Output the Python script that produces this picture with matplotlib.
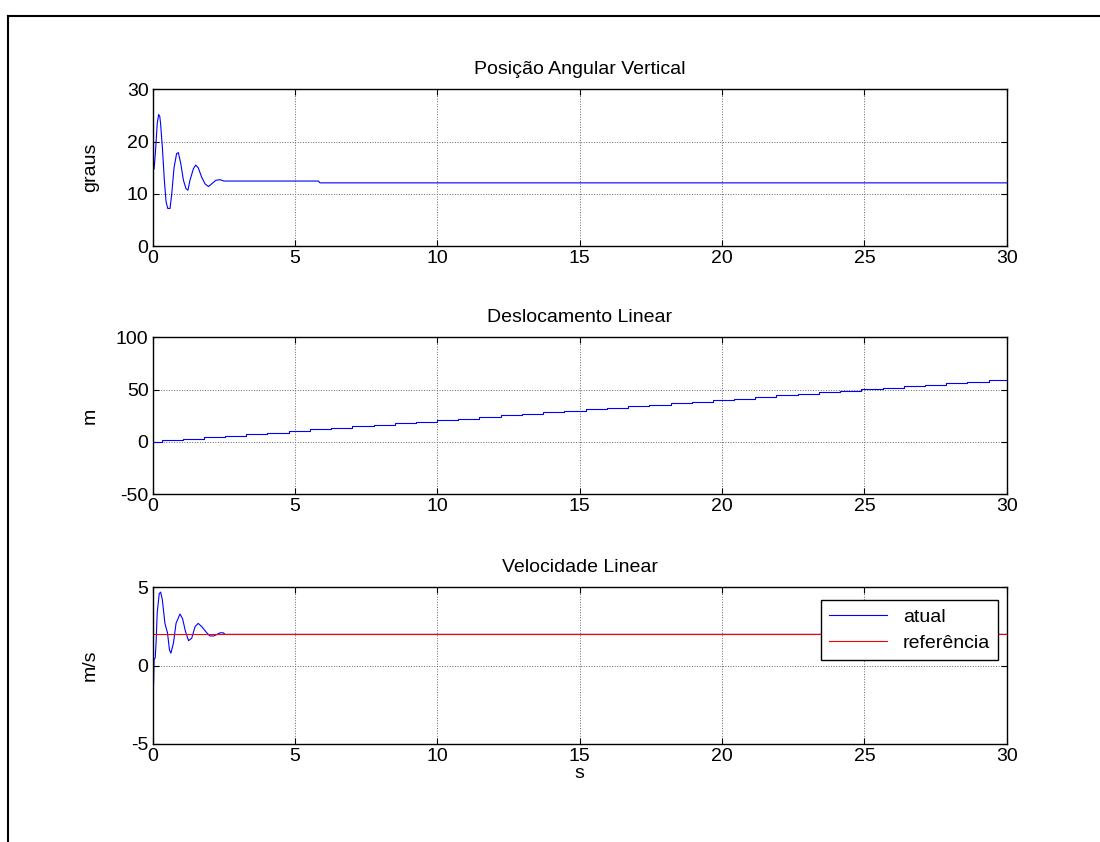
import matplotlib

matplotlib.use("Agg")
import matplotlib.pyplot as plt
from matplotlib.lines import Line2D

plt.rcParams["font.family"] = ["Liberation Sans", "DejaVu Sans"]
plt.rcParams["font.size"] = 14
plt.rcParams["axes.unicode_minus"] = False

# Posição angular vertical (graus)
ang_t = [0, 0.0, 0.02, 0.05, 0.09, 0.12, 0.16, 0.21, 0.25, 0.28, 0.34, 0.41,
         0.47, 0.53, 0.61, 0.67, 0.75, 0.84, 0.90, 0.98, 1.08, 1.17, 1.24,
         1.31, 1.43, 1.51, 1.60, 1.72, 1.84, 1.96, 2.07, 2.22, 2.37, 2.50,
         5.82, 5.88, 30]
ang = [0, 7.2, 14.5, 14.8, 17.5, 20, 23.5, 25.2, 24.8, 23.3, 18.9, 12.6,
       8.5, 7.2, 7.2, 10, 15, 17.7, 17.9, 16, 12.6, 11, 10.7,
       12.6, 14.8, 15.5, 15, 13.2, 11.9, 11.4, 11.9, 12.6, 12.7, 12.45,
       12.45, 12.1, 12.1]

# Deslocamento linear (m), escada
desl_t = [0, 0.31, 1.05, 1.80, 2.54, 3.29, 4.03, 4.78, 5.52, 6.27, 7.01,
          7.76, 8.50, 9.25, 9.99, 10.74, 11.48, 12.23, 12.97, 13.72, 14.46,
          15.21, 15.95, 16.70, 17.44, 18.19, 18.93, 19.68, 20.42, 21.17,
          21.91, 22.66, 23.40, 24.15, 24.89, 25.64, 26.38, 27.13, 27.87,
          28.62, 29.36, 30]
desl = [0, 1.5, 3.0, 4.4, 5.9, 7.4, 8.9, 10.4, 11.8, 13.3, 14.8,
        16.3, 17.8, 19.2, 20.7, 22.2, 23.7, 25.2, 26.6, 28.1, 29.6,
        31.1, 32.6, 34.0, 35.5, 37.0, 38.5, 40.0, 41.4, 42.9,
        44.4, 45.9, 47.4, 48.8, 50.3, 51.8, 53.3, 54.8, 56.2,
        57.7, 59.2, 59.2]

# Velocidade linear (m/s)
vel_t = [0, 0, 0.02, 0.03, 0.05, 0.09, 0.12, 0.16, 0.23, 0.28, 0.34, 0.43,
         0.52, 0.59, 0.64, 0.73, 0.82, 0.96, 1.05, 1.15, 1.26, 1.37, 1.49,
         1.60, 1.72, 1.90, 2.01, 2.15, 2.37, 2.48, 2.54, 30]
vel = [-3.2, 0, -1.3, -1.3, 0.4, 0.5, 1.5, 3.4, 4.6, 4.7, 4.2, 2.7,
       2.1, 1.0, 0.8, 1.45, 2.7, 3.3, 3.0, 2.2, 1.6, 1.75, 2.5,
       2.7, 2.5, 2.1, 1.9, 1.9, 2.1, 2.1, 2.0, 2.0]
ref_t = [0, 30]
ref = [2, 2]

x_ticks = [0, 5, 10, 15, 20, 25, 30]

fig = plt.figure(figsize=(11, 8.42), dpi=100)
left, width, height = 0.1388, 0.7764, 0.186
ax1 = fig.add_axes([left, 0.7078, width, height])
ax2 = fig.add_axes([left, 0.4133, width, height])
ax3 = fig.add_axes([left, 0.1164, width, height])

ax1.plot(ang_t, ang, color="b", lw=0.8)
ax2.step(desl_t, desl, where="post", color="b", lw=0.8)
ax3.plot(vel_t, vel, color="b", lw=0.8, label="atual")
ax3.plot(ref_t, ref, color="r", lw=0.8, label="referência")

setup = [
    (ax1, "Posição Angular Vertical", "graus", (0, 30), [0, 10, 20, 30]),
    (ax2, "Deslocamento Linear", "m", (-50, 100), [-50, 0, 50, 100]),
    (ax3, "Velocidade Linear", "m/s", (-5, 5), [-5, 0, 5]),
]
for ax, title, ylab, ylim, yt in setup:
    ax.set_xlim(0, 30)
    ax.set_ylim(*ylim)
    ax.set_xticks(x_ticks)
    ax.set_yticks(yt)
    ax.tick_params(direction="in", top=True, right=True, length=4, width=0.8, pad=3)
    ax.grid(True, color="0.4", linestyle=":", linewidth=0.7)
    ax.set_title(title, fontsize=14, pad=11)
    ax.set_ylabel(ylab)
    ax.yaxis.set_label_coords(-0.063, 0.5)
    for s in ax.spines.values():
        s.set_linewidth(1.0)

ax3.set_xlabel("s", labelpad=0)
leg = ax3.legend(loc="upper right", bbox_to_anchor=(0.9895, 0.917),
                 borderaxespad=0, fancybox=False, framealpha=1,
                 edgecolor="k", handlelength=3.0, labelspacing=0.45,
                 borderpad=0.4, fontsize=14)
leg.get_frame().set_linewidth(1.0)

# moldura externa
fig.add_artist(Line2D([7.5 / 1100, 1], [1 - 15.5 / 842, 1 - 15.5 / 842],
                      transform=fig.transFigure, color="k", lw=1.5))
fig.add_artist(Line2D([7.5 / 1100, 7.5 / 1100], [0, 1 - 15.5 / 842],
                      transform=fig.transFigure, color="k", lw=1.5))

fig.savefig("out.png", dpi=100)
